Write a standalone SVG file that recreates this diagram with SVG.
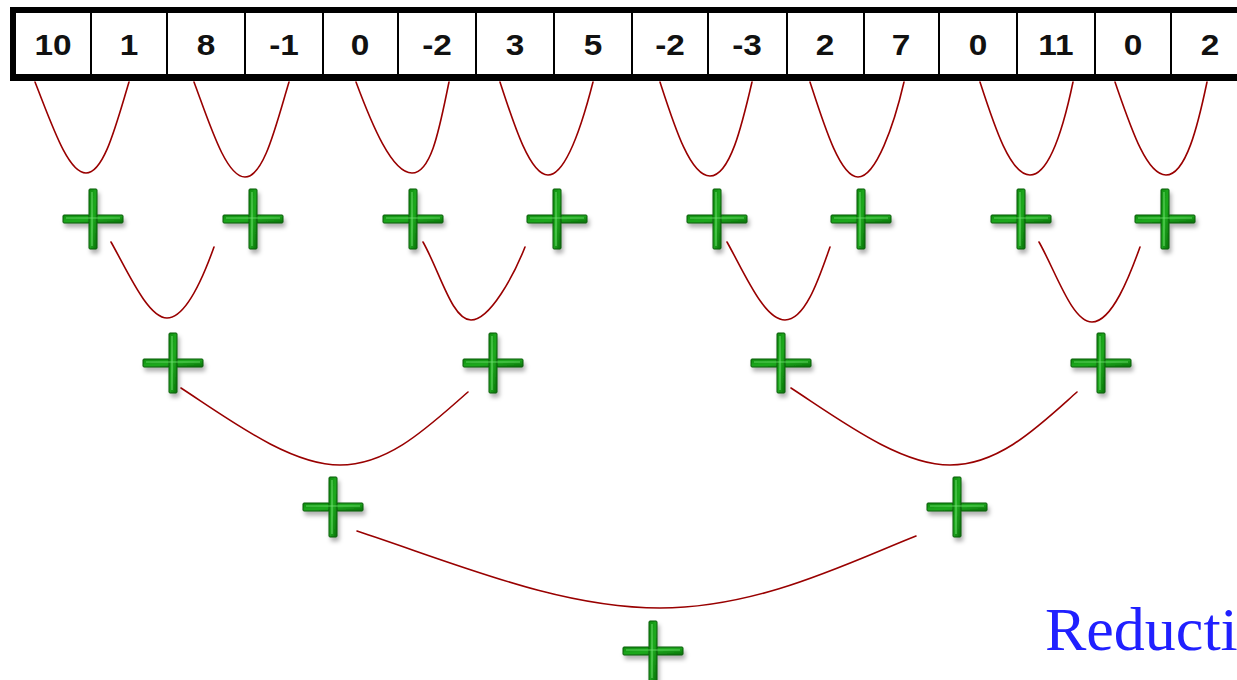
<svg xmlns="http://www.w3.org/2000/svg" width="1237" height="680" viewBox="0 0 1237 680">
  <style>
    .cell { fill: #ffffff; }
    .num { font-family: "Liberation Sans", Arial, sans-serif; font-weight: bold; font-size: 29px; fill: #111111; text-anchor: middle; }
    .edge { fill: none; stroke: #990000; stroke-width: 1.6; stroke-linecap: round; }
    .bar { fill: url(#g); stroke: #0a5a0a; stroke-width: 1; }
    .title { font-family: "Liberation Serif", "Times New Roman", serif; font-size: 62px; fill: #2020ff; }
  </style>
  <defs>
    <linearGradient id="g" x1="0" y1="0" x2="1" y2="1">
      <stop offset="0" stop-color="#0e8e0e"/>
      <stop offset="0.5" stop-color="#1faa1f"/>
      <stop offset="1" stop-color="#066f06"/>
    </linearGradient>
    <filter id="sh" x="-30%" y="-30%" width="160%" height="160%">
      <feDropShadow dx="2" dy="4" stdDeviation="2" flood-color="#000" flood-opacity="0.3"/>
    </filter>
    <g id="plus" filter="url(#sh)">
      <rect class="bar" x="-30" y="-4" width="60" height="8" rx="1"/>
      <rect class="bar" x="-4" y="-30" width="8" height="60" rx="1"/>
      <line x1="-27" y1="-1" x2="27" y2="-1" stroke="#6fe06f" stroke-width="1.2" opacity="0.8"/>
      <line x1="-1" y1="-27" x2="-1" y2="27" stroke="#6fe06f" stroke-width="1.2" opacity="0.8"/>
    </g>
  </defs>
  <rect width="1237" height="680" fill="#ffffff"/>

  <g id="array">
    <rect x="10" y="7" width="1240" height="74" fill="#000000"/>
    <g id="c1"><rect class="cell" x="16" y="13" width="74" height="61"/><text class="num" transform="translate(53,55) scale(1.15,1)">10</text></g>
    <g id="c2"><rect class="cell" x="92" y="13" width="74" height="61"/><text class="num" transform="translate(129,55) scale(1.15,1)">1</text></g>
    <g id="c3"><rect class="cell" x="168" y="13" width="76" height="61"/><text class="num" transform="translate(206,55) scale(1.15,1)">8</text></g>
    <g id="c4"><rect class="cell" x="246" y="13" width="76" height="61"/><text class="num" transform="translate(284,55) scale(1.15,1)">-1</text></g>
    <g id="c5"><rect class="cell" x="324" y="13" width="73" height="61"/><text class="num" transform="translate(360,55) scale(1.15,1)">0</text></g>
    <g id="c6"><rect class="cell" x="399" y="13" width="76" height="61"/><text class="num" transform="translate(437,55) scale(1.15,1)">-2</text></g>
    <g id="c7"><rect class="cell" x="477" y="13" width="76" height="61"/><text class="num" transform="translate(515,55) scale(1.15,1)">3</text></g>
    <g id="c8"><rect class="cell" x="555" y="13" width="76" height="61"/><text class="num" transform="translate(593,55) scale(1.15,1)">5</text></g>
    <g id="c9"><rect class="cell" x="633" y="13" width="74" height="61"/><text class="num" transform="translate(670,55) scale(1.15,1)">-2</text></g>
    <g id="c10"><rect class="cell" x="709" y="13" width="77" height="61"/><text class="num" transform="translate(747,55) scale(1.15,1)">-3</text></g>
    <g id="c11"><rect class="cell" x="788" y="13" width="75" height="61"/><text class="num" transform="translate(825,55) scale(1.15,1)">2</text></g>
    <g id="c12"><rect class="cell" x="865" y="13" width="73" height="61"/><text class="num" transform="translate(901,55) scale(1.15,1)">7</text></g>
    <g id="c13"><rect class="cell" x="940" y="13" width="76" height="61"/><text class="num" transform="translate(978,55) scale(1.15,1)">0</text></g>
    <g id="c14"><rect class="cell" x="1018" y="13" width="76" height="61"/><text class="num" transform="translate(1056,55) scale(1.15,1)">11</text></g>
    <g id="c15"><rect class="cell" x="1096" y="13" width="74" height="61"/><text class="num" transform="translate(1133,55) scale(1.15,1)">0</text></g>
    <g id="c16"><rect class="cell" x="1172" y="13" width="80" height="61"/><text class="num" transform="translate(1210,55) scale(1.15,1)">2</text></g>
  </g>

  <g id="connectors">
    <path class="edge" d="M35 82 C52 125 68 173 86 173 C104 173 116 125 129 82"/>
    <path class="edge" d="M194 82 C210 125 226 177 245 177 C264 177 276 125 289 82"/>
    <path class="edge" d="M356 82 C372 125 392 173 412 173 C432 173 440 125 449 82"/>
    <path class="edge" d="M500 82 C514 125 530 175 548 175 C566 175 582 125 593 82"/>
    <path class="edge" d="M660 82 C674 125 690 176 710 176 C730 176 742 125 752 82"/>
    <path class="edge" d="M810 82 C824 125 840 177 858 177 C876 177 894 125 904 82"/>
    <path class="edge" d="M980 82 C994 125 1010 175 1030 175 C1050 175 1064 125 1073 82"/>
    <path class="edge" d="M1115 82 C1130 125 1146 175 1166 175 C1186 175 1198 125 1207 82"/>

    <path class="edge" d="M111 242 C128 272 148 318 167 318 C186 318 204 275 214 247"/>
    <path class="edge" d="M423 242 C440 272 452 320 471 320 C490 320 514 275 525 247"/>
    <path class="edge" d="M727 242 C744 272 764 320 785 320 C806 320 820 275 830 247"/>
    <path class="edge" d="M1039 242 C1056 272 1072 322 1092 322 C1112 322 1130 275 1140 247"/>

    <path class="edge" d="M181 388 C230 420 290 465 340 465 C390 465 430 425 468 392"/>
    <path class="edge" d="M791 388 C840 420 900 465 950 465 C1000 465 1040 425 1077 392"/>

    <path class="edge" d="M357 531 C460 565 560 608 660 608 C760 608 850 562 916 536"/>
  </g>

  <g id="p1"><use href="#plus" x="93" y="219"/></g>
  <g id="p2"><use href="#plus" x="253" y="219"/></g>
  <g id="p3"><use href="#plus" x="413" y="219"/></g>
  <g id="p4"><use href="#plus" x="557" y="219"/></g>
  <g id="p5"><use href="#plus" x="717" y="219"/></g>
  <g id="p6"><use href="#plus" x="861" y="219"/></g>
  <g id="p7"><use href="#plus" x="1021" y="219"/></g>
  <g id="p8"><use href="#plus" x="1165" y="219"/></g>

  <g id="q1"><use href="#plus" x="173" y="363"/></g>
  <g id="q2"><use href="#plus" x="493" y="363"/></g>
  <g id="q3"><use href="#plus" x="781" y="363"/></g>
  <g id="q4"><use href="#plus" x="1101" y="363"/></g>

  <g id="r1"><use href="#plus" x="333" y="507"/></g>
  <g id="r2"><use href="#plus" x="957" y="507"/></g>

  <g id="s1"><use href="#plus" x="653" y="651"/></g>

  <text class="title" x="1045" y="650">Reducti</text>
</svg>
